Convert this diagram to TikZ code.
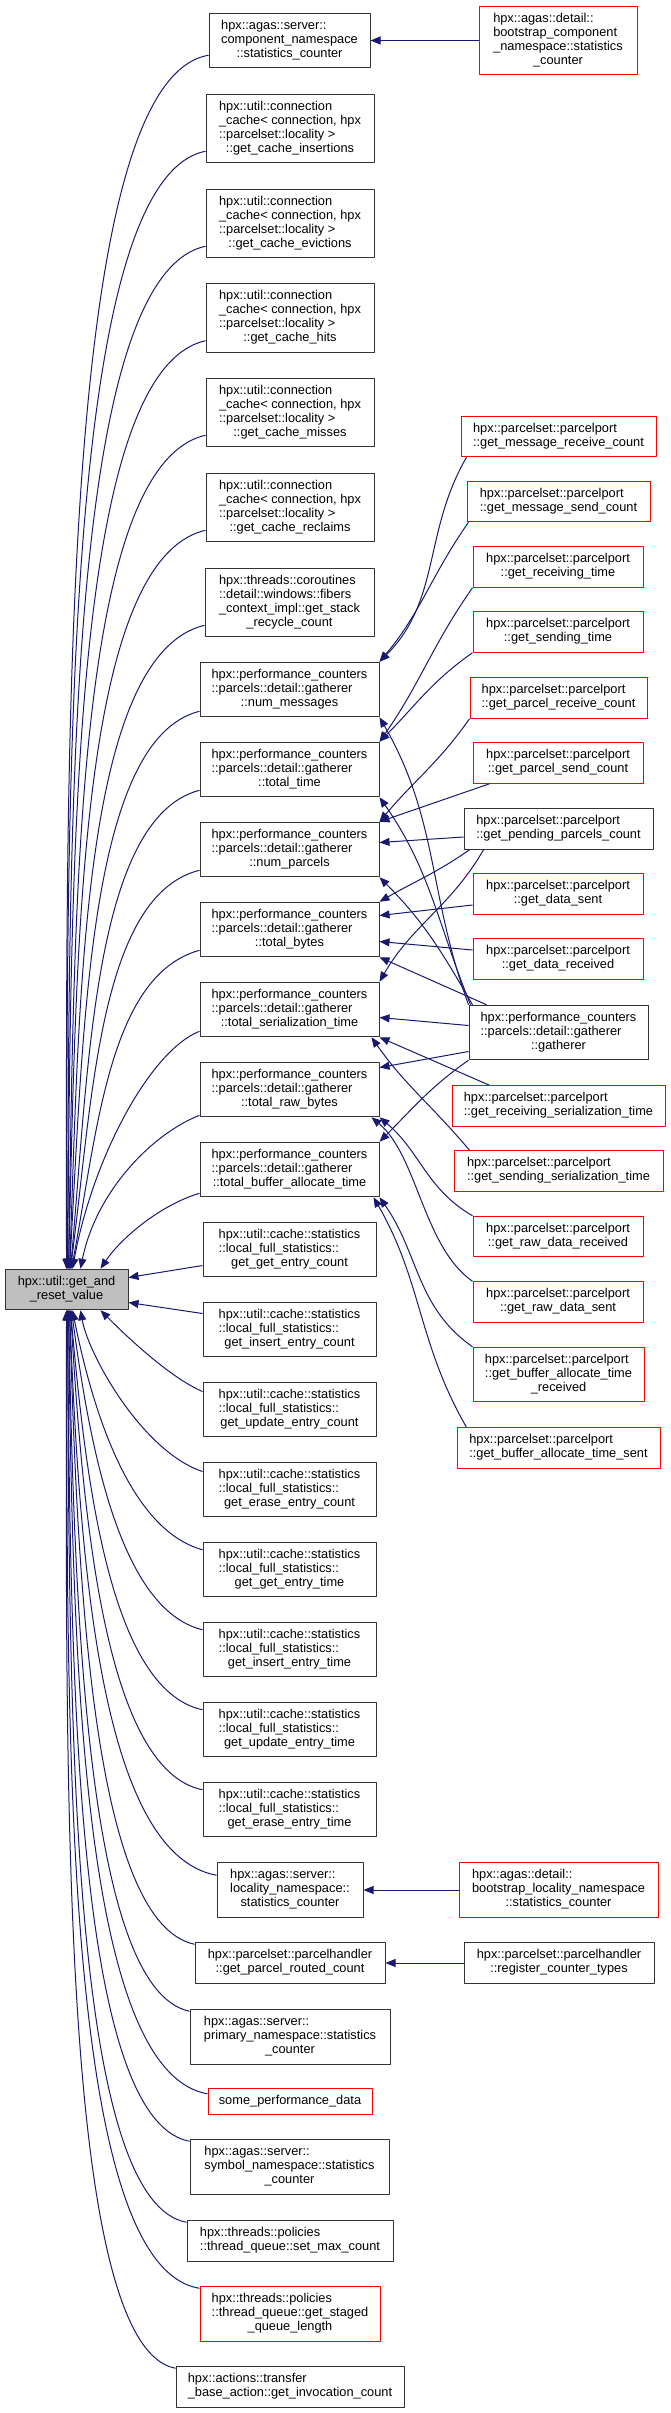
\documentclass[tikz,border=0pt]{standalone}
\usepackage{fontspec}
\setmainfont{Liberation Sans}
\usetikzlibrary{arrows.meta}
\definecolor{callblue}{HTML}{191970}
\definecolor{rootgray}{HTML}{BFBFBF}
% left-aligned lines, last line centred
\newcommand{\lbl}[2]{\begin{tabular}{@{}l@{}}#1\\\multicolumn{1}{@{}c@{}}{#2}\end{tabular}}
\newcommand{\one}[1]{\begin{tabular}{@{}c@{}}#1\end{tabular}}

\begin{document}
\begin{tikzpicture}[
  x=1pt, y=1pt,
  line join=round,
  >={Triangle[length=10pt,width=8pt]},
  fn/.style={draw=black!80,line width=1pt,fill=white,inner xsep=3pt,inner ysep=6.25pt,font=\fontsize{12.8}{14}\selectfont},
  fnred/.style={fn,draw=red},
  fnroot/.style={fn,fill=rootgray},
  call/.style={draw=callblue,line width=1pt,->}
]
\useasboundingbox (0,0) rectangle (671,-2413);

% Root
\node[fnroot,minimum width=123pt] (root) at (66.5,-1289.5) {\lbl{hpx::util::get\_and}{\_reset\_value}};

% Middle column
\node[fn,minimum width=161pt] (cstat) at (289.5,-40.5) {\lbl{hpx::agas::server::\\component\_namespace}{::statistics\_counter}};
\node[fn,minimum width=168pt] (ins) at (290,-128.5) {\lbl{hpx::util::connection\\\_cache< connection, hpx\\::parcelset::locality >}{::get\_cache\_insertions}};
\node[fn,minimum width=168pt] (evi) at (290,-223.5) {\lbl{hpx::util::connection\\\_cache< connection, hpx\\::parcelset::locality >}{::get\_cache\_evictions}};
\node[fn,minimum width=168pt] (hits) at (290,-318) {\lbl{hpx::util::connection\\\_cache< connection, hpx\\::parcelset::locality >}{::get\_cache\_hits}};
\node[fn,minimum width=168pt] (miss) at (290,-412.5) {\lbl{hpx::util::connection\\\_cache< connection, hpx\\::parcelset::locality >}{::get\_cache\_misses}};
\node[fn,minimum width=168pt] (recl) at (290,-507.5) {\lbl{hpx::util::connection\\\_cache< connection, hpx\\::parcelset::locality >}{::get\_cache\_reclaims}};
\node[fn,minimum width=169pt] (coro) at (289.5,-602.5) {\lbl{hpx::threads::coroutines\\::detail::windows::fibers\\\_context\_impl::get\_stack}{\_recycle\_count}};
\node[fn,minimum width=179pt] (nmsg) at (289.5,-689.5) {\lbl{hpx::performance\_counters\\::parcels::detail::gatherer}{::num\_messages}};
\node[fn,minimum width=179pt] (ttime) at (289.5,-769.5) {\lbl{hpx::performance\_counters\\::parcels::detail::gatherer}{::total\_time}};
\node[fn,minimum width=179pt] (npar) at (289.5,-849.5) {\lbl{hpx::performance\_counters\\::parcels::detail::gatherer}{::num\_parcels}};
\node[fn,minimum width=179pt] (tbytes) at (289.5,-929.5) {\lbl{hpx::performance\_counters\\::parcels::detail::gatherer}{::total\_bytes}};
\node[fn,minimum width=179pt] (tser) at (289.5,-1009.5) {\lbl{hpx::performance\_counters\\::parcels::detail::gatherer}{::total\_serialization\_time}};
\node[fn,minimum width=179pt] (traw) at (289.5,-1089.5) {\lbl{hpx::performance\_counters\\::parcels::detail::gatherer}{::total\_raw\_bytes}};
\node[fn,minimum width=179pt] (tbuf) at (289.5,-1169.5) {\lbl{hpx::performance\_counters\\::parcels::detail::gatherer}{::total\_buffer\_allocate\_time}};
\node[fn,minimum width=173pt] (gent) at (289.5,-1249.5) {\lbl{hpx::util::cache::statistics\\::local\_full\_statistics::}{get\_get\_entry\_count}};
\node[fn,minimum width=173pt] (icnt) at (289.5,-1329.5) {\lbl{hpx::util::cache::statistics\\::local\_full\_statistics::}{get\_insert\_entry\_count}};
\node[fn,minimum width=173pt] (ucnt) at (289.5,-1409.5) {\lbl{hpx::util::cache::statistics\\::local\_full\_statistics::}{get\_update\_entry\_count}};
\node[fn,minimum width=173pt] (ecnt) at (289.5,-1489.5) {\lbl{hpx::util::cache::statistics\\::local\_full\_statistics::}{get\_erase\_entry\_count}};
\node[fn,minimum width=173pt] (gtime) at (289.5,-1569.5) {\lbl{hpx::util::cache::statistics\\::local\_full\_statistics::}{get\_get\_entry\_time}};
\node[fn,minimum width=173pt] (itime) at (289.5,-1649.5) {\lbl{hpx::util::cache::statistics\\::local\_full\_statistics::}{get\_insert\_entry\_time}};
\node[fn,minimum width=173pt] (utime) at (289.5,-1729.5) {\lbl{hpx::util::cache::statistics\\::local\_full\_statistics::}{get\_update\_entry\_time}};
\node[fn,minimum width=173pt] (etime) at (289.5,-1809.5) {\lbl{hpx::util::cache::statistics\\::local\_full\_statistics::}{get\_erase\_entry\_time}};
\node[fn,minimum width=146pt] (locns) at (290,-1890) {\lbl{hpx::agas::server::\\locality\_namespace::}{statistics\_counter}};
\node[fn,minimum width=190pt] (routed) at (290,-1963) {\lbl{hpx::parcelset::parcelhandler}{::get\_parcel\_routed\_count}};
\node[fn,minimum width=200pt] (prim) at (290,-2037) {\lbl{hpx::agas::server::\\primary\_namespace::statistics}{\_counter}};
\node[fnred,minimum width=164pt] (spd) at (290,-2101.5) {\one{some\_performance\_data}};
\node[fn,minimum width=199pt] (symns) at (289.5,-2167) {\lbl{hpx::agas::server::\\symbol\_namespace::statistics}{\_counter}};
\node[fn,minimum width=206pt] (setmax) at (290,-2241) {\lbl{hpx::threads::policies}{::thread\_queue::set\_max\_count}};
\node[fnred,minimum width=180pt] (staged) at (290,-2314) {\lbl{hpx::threads::policies\\::thread\_queue::get\_staged}{\_queue\_length}};
\node[fn,minimum width=228pt] (xfer) at (290,-2387) {\lbl{hpx::actions::transfer}{\_base\_action::get\_invocation\_count}};

% Right column
\node[fnred,minimum width=158pt] (bcomp) at (558,-40.5) {\lbl{hpx::agas::detail::\\bootstrap\_component\\\_namespace::statistics}{\_counter}};
\node[fnred,minimum width=195pt] (mrecv) at (558.5,-436.5) {\lbl{hpx::parcelset::parcelport}{::get\_message\_receive\_count}};
\node[fnred,minimum width=183pt] (msend) at (558.5,-501.5) {\lbl{hpx::parcelset::parcelport}{::get\_message\_send\_count}};
\node[fnred,minimum width=170pt] (rtime) at (558,-567) {\lbl{hpx::parcelset::parcelport}{::get\_receiving\_time}};
\node[fnred,minimum width=170pt] (stime) at (558,-632) {\lbl{hpx::parcelset::parcelport}{::get\_sending\_time}};
\node[fnred,minimum width=177pt] (precv) at (558.5,-698) {\lbl{hpx::parcelset::parcelport}{::get\_parcel\_receive\_count}};
\node[fnred,minimum width=170pt] (psend) at (558,-763) {\lbl{hpx::parcelset::parcelport}{::get\_parcel\_send\_count}};
\node[fn,minimum width=189pt] (pend) at (558.5,-829) {\lbl{hpx::parcelset::parcelport}{::get\_pending\_parcels\_count}};
\node[fnred,minimum width=170pt] (dsent) at (558,-894) {\lbl{hpx::parcelset::parcelport}{::get\_data\_sent}};
\node[fnred,minimum width=170pt] (drecv) at (558,-959) {\lbl{hpx::parcelset::parcelport}{::get\_data\_received}};
\node[fn,minimum width=179pt] (gath) at (558.5,-1032.5) {\lbl{hpx::performance\_counters\\::parcels::detail::gatherer}{::gatherer}};
\node[fnred,minimum width=213pt] (rser) at (558.5,-1106) {\lbl{hpx::parcelset::parcelport}{::get\_receiving\_serialization\_time}};
\node[fnred,minimum width=209pt] (sser) at (558.5,-1171) {\lbl{hpx::parcelset::parcelport}{::get\_sending\_serialization\_time}};
\node[fnred,minimum width=170pt] (rawr) at (558,-1236.5) {\lbl{hpx::parcelset::parcelport}{::get\_raw\_data\_received}};
\node[fnred,minimum width=170pt] (raws) at (558,-1302) {\lbl{hpx::parcelset::parcelport}{::get\_raw\_data\_sent}};
\node[fnred,minimum width=171pt] (bufr) at (558.5,-1374.5) {\lbl{hpx::parcelset::parcelport\\::get\_buffer\_allocate\_time}{\_received}};
\node[fnred,minimum width=203pt] (bufs) at (558.5,-1448) {\lbl{hpx::parcelset::parcelport}{::get\_buffer\_allocate\_time\_sent}};
\node[fnred,minimum width=199pt] (bloc) at (558.5,-1890) {\lbl{hpx::agas::detail::\\bootstrap\_locality\_namespace}{::statistics\_counter}};
\node[fn,minimum width=190pt] (reg) at (559,-1963) {\lbl{hpx::parcelset::parcelhandler}{::register\_counter\_types}};

% Calls into the root, from above
\draw[call] ([yshift=13pt]cstat.south west) .. controls +(-149,-25) and +(0,510) .. (root.north);
\draw[call] ([yshift=12pt]ins.south west) .. controls +(-143,-28) and +(1,470) .. (root.north);
\draw[call] ([yshift=12pt]evi.south west) .. controls +(-140,-30) and +(2,430) .. ([xshift=1pt]root.north);
\draw[call] ([yshift=12pt]hits.south west) .. controls +(-136,-30) and +(4,390) .. ([xshift=1pt]root.north);
\draw[call] ([yshift=12pt]miss.south west) .. controls +(-132,-30) and +(6,350) .. ([xshift=2pt]root.north);
\draw[call] ([yshift=12pt]recl.south west) .. controls +(-128,-30) and +(8,310) .. ([xshift=2pt]root.north);
\draw[call] ([yshift=12pt]coro.south west) .. controls +(-123,-30) and +(10,270) .. ([xshift=3pt]root.north);
\draw[call] ([yshift=6pt]nmsg.south west) .. controls +(-112,-28) and +(14,235) .. ([xshift=3pt]root.north);
\draw[call] ([yshift=7pt]ttime.south west) .. controls +(-106,-28) and +(18,200) .. ([xshift=4pt]root.north);
\draw[call] ([yshift=7pt]npar.south west) .. controls +(-100,-25) and +(22,170) .. ([xshift=4pt]root.north);
\draw[call] ([yshift=7pt]tbytes.south west) .. controls +(-90,-25) and +(26,140) .. ([xshift=5pt]root.north);
\draw[call] ([yshift=6pt]tser.south west) .. controls +(-50,-20) and +(20,110) .. ([xshift=6pt]root.north);
\draw[call] ([yshift=2pt]traw.south west) .. controls +(-50,-20) and +(15,75) .. ([xshift=14pt]root.north);
\draw[call] ([yshift=4pt]tbuf.south west) .. controls +(-40,-12) and +(20,30) .. ([xshift=34pt]root.north);

% Calls into the root, from the side and below
\draw[call] ([yshift=-16pt]gent.west) -- ([yshift=12pt]root.east);
\draw[call] ([yshift=16pt]icnt.west) -- ([yshift=-13pt]root.east);
\draw[call] ([yshift=18pt]ucnt.west) .. controls +(-35,15) and +(20,-20) .. ([xshift=34pt]root.south);
\draw[call] ([yshift=18pt]ecnt.west) .. controls +(-60,20) and +(8,-45) .. ([xshift=14pt]root.south);
\draw[call] ([yshift=-8pt]gtime.north west) .. controls +(-73,20) and +(20,-100) .. ([xshift=6pt]root.south);
\draw[call] ([yshift=-8pt]itime.north west) .. controls +(-83,20) and +(18,-135) .. ([xshift=5pt]root.south);
\draw[call] ([yshift=-8pt]utime.north west) .. controls +(-93,20) and +(15,-168) .. ([xshift=4pt]root.south);
\draw[call] ([yshift=-8pt]etime.north west) .. controls +(-99,20) and +(12,-200) .. ([xshift=4pt]root.south);
\draw[call] ([yshift=-13pt]locns.north west) .. controls +(-119,22) and +(10,-238) .. ([xshift=3pt]root.south);
\draw[call] ([yshift=-2pt]routed.north west) .. controls +(-103,22) and +(8,-266) .. ([xshift=3pt]root.south);
\draw[call] ([yshift=-2pt]prim.north west) .. controls +(-104,22) and +(6,-294) .. ([xshift=2pt]root.south);
\draw[call] ([yshift=-6pt]spd.north west) .. controls +(-128,22) and +(4,-330) .. ([xshift=2pt]root.south);
\draw[call] ([yshift=-2pt]symns.north west) .. controls +(-116,22) and +(3,-350) .. ([xshift=1pt]root.south);
\draw[call] ([yshift=-2pt]setmax.north west) .. controls +(-119,22) and +(2,-383) .. ([xshift=1pt]root.south);
\draw[call] ([yshift=-2pt]staged.north west) .. controls +(-138,22) and +(1,-411) .. (root.south);
\draw[call] ([yshift=-2pt]xfer.north west) .. controls +(-118,22) and +(0,-445) .. (root.south);

% Straight callers
\draw[call] (bcomp.west) -- (cstat.east);
\draw[call] (bloc.west) -- (locns.east);
\draw[call] (reg.west) -- (routed.east);

% Parcelport callers of the gatherer
\draw[call] ([xshift=6pt]mrecv.south west) to[out=240,in=45] (nmsg.north east);
\draw[call] ([xshift=2pt]msend.south west) to[out=235,in=50] (nmsg.north east);
\draw[call] (rtime.south west) to[out=235,in=55] (ttime.north east);
\draw[call] (stime.south west) to[out=215,in=45] (ttime.north east);
\draw[call] (precv.south west) to[out=235,in=50] (npar.north east);
\draw[call] ([xshift=17pt]psend.south west) -- (npar.north east);
\draw[call] ([yshift=-8pt]pend.west) -- ([yshift=7pt]npar.east);
\draw[call] ([xshift=6pt]pend.south west) to[out=215,in=30] (tbytes.north east);
\draw[call] ([xshift=20pt]pend.south west) to[out=240,in=60] (tser.north east);
\draw[call] ([yshift=-11pt]dsent.west) -- ([yshift=14pt]tbytes.east);
\draw[call] ([yshift=9pt]drecv.west) -- ([yshift=-12pt]tbytes.east);
\draw[call] (gath.north west) to[out=110,in=-60] (nmsg.south east);
\draw[call] ([xshift=2pt]gath.north west) to[out=112,in=-55] (ttime.south east);
\draw[call] ([xshift=4pt]gath.north west) to[out=120,in=-45] (npar.south east);
\draw[call] ([xshift=18pt]gath.north west) -- (tbytes.south east);
\draw[call] ([yshift=7pt]gath.west) -- ([yshift=-8pt]tser.east);
\draw[call] ([yshift=-19pt]gath.west) -- ([yshift=22pt]traw.east);
\draw[call] (gath.south west) to[out=215,in=45] (tbuf.north east);
\draw[call] ([xshift=38pt]rser.north west) -- (tser.south east);
\draw[call] ([xshift=16pt]sser.north west) to[out=130,in=-55] ([xshift=-8pt]tser.south east);
\draw[call] (rawr.north west) to[out=150,in=-40] (traw.south east);
\draw[call] (raws.north west) to[out=145,in=-40,looseness=0.8] ([xshift=-8pt]traw.south east);
\draw[call] (bufr.north west) to[out=145,in=-55] (tbuf.south east);
\draw[call] ([xshift=10pt]bufs.north west) to[out=120,in=-60] ([xshift=-6pt]tbuf.south east);

\end{tikzpicture}
\end{document}
